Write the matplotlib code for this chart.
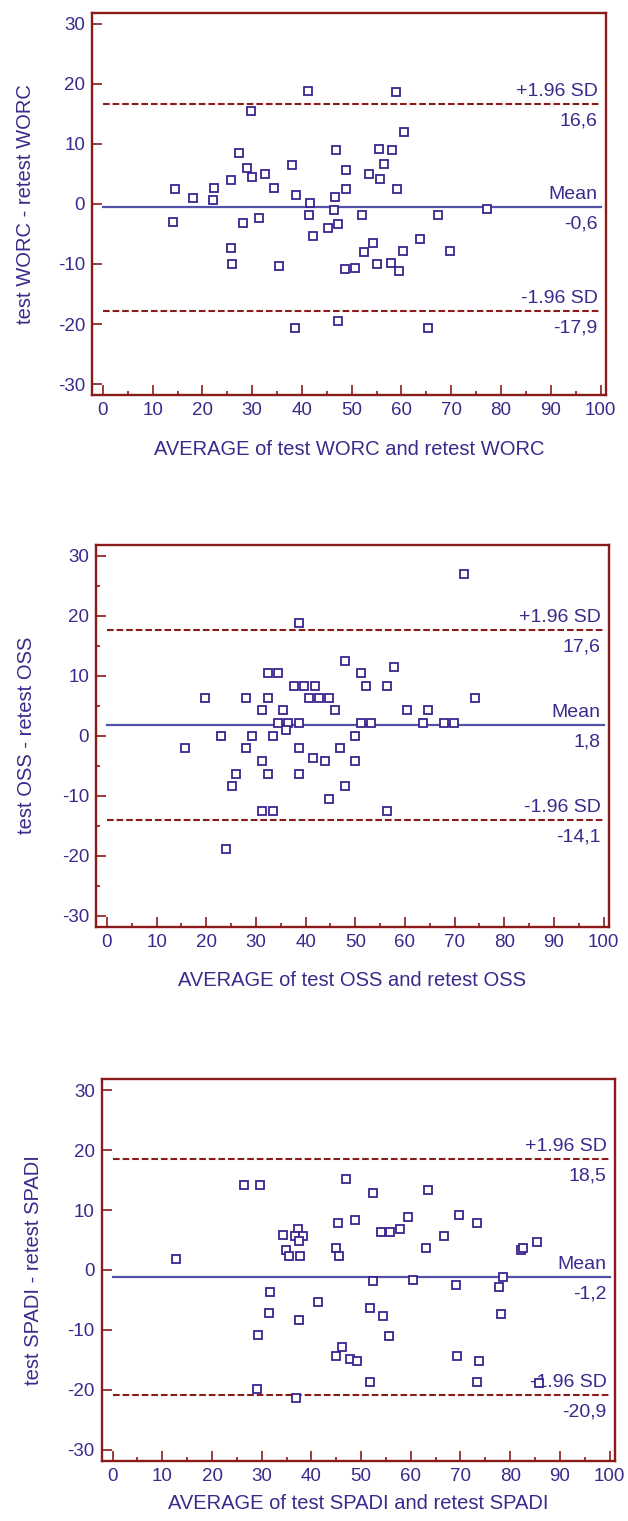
import matplotlib
matplotlib.use('Agg')
import matplotlib.pyplot as plt
from matplotlib.ticker import MultipleLocator

plt.rcParams['font.family'] = ['Liberation Sans', 'DejaVu Sans']
plt.rcParams['axes.unicode_minus'] = False

# ---------------- data ----------------
worc_avg = [41.3, 29.7, 27.3, 46.8, 28.9, 38.0, 48.9, 29.9, 32.5, 25.8, 34.3, 14.4, 22.4, 48.9,
            38.7, 46.7, 18.1, 22.1, 41.6, 46.5, 52.0, 14.0, 28.2, 31.4, 41.5, 47.3, 45.3, 42.2,
            25.8, 26.0, 35.3, 48.6, 50.7, 38.6, 47.3, 58.9, 60.5, 55.5, 58.1, 56.4, 53.4, 55.6,
            59.1, 77.1, 67.4, 63.7, 54.2, 52.4, 60.3, 69.7, 55.0, 57.9, 59.4, 65.4]
worc_diff = [18.8, 15.4, 8.5, 8.9, 6.0, 6.5, 5.7, 4.5, 4.9, 4.0, 2.7, 2.5, 2.7, 2.5,
             1.5, 1.1, 0.9, 0.6, 0.1, -1.1, -1.8, -3.1, -3.2, -2.4, -1.9, -3.4, -4.0, -5.4,
             -7.4, -10.0, -10.4, -10.9, -10.7, -20.7, -19.5, 18.6, 11.9, 9.2, 9.0, 6.7, 4.9, 4.2,
             2.4, -0.8, -1.9, -5.9, -6.5, -8.0, -7.9, -7.8, -10.0, -9.9, -11.2, -20.7]
worc_lines = {'mean': -0.6, 'upper': 16.6, 'lower': -17.9}
worc_labels = {'mean': '-0,6', 'upper': '16,6', 'lower': '-17,9'}

oss_avg = [38.6, 48.0, 32.4, 34.4, 51.1, 37.6, 39.7, 41.8, 19.8, 28.1, 32.4, 40.7, 42.7, 44.7,
           31.3, 35.5, 46.0, 34.4, 36.5, 38.6, 51.1, 36.0, 23.0, 29.3, 33.4, 49.9, 15.7, 28.1,
           38.6, 46.9, 41.5, 43.9, 31.3, 49.9, 26.0, 32.4, 38.6, 25.1, 48.0, 44.8, 31.3, 33.4,
           24.0, 72.0, 57.9, 52.1, 56.3, 74.1, 60.4, 64.6, 53.2, 63.7, 67.8, 69.9, 56.3]
oss_diff = [18.7, 12.5, 10.4, 10.4, 10.4, 8.3, 8.3, 8.3, 6.3, 6.3, 6.3, 6.3, 6.3, 6.3,
            4.2, 4.2, 4.2, 2.1, 2.1, 2.1, 2.1, 0.9, 0.0, 0.0, 0.0, 0.0, -2.1, -2.1,
            -2.1, -2.1, -3.7, -4.2, -4.2, -4.2, -6.3, -6.3, -6.3, -8.4, -8.4, -10.5, -12.5, -12.5,
            -18.8, 27.0, 11.4, 8.3, 8.3, 6.3, 4.2, 4.2, 2.1, 2.1, 2.1, 2.1, -12.5]
oss_lines = {'mean': 1.8, 'upper': 17.6, 'lower': -14.1}
oss_labels = {'mean': '1,8', 'upper': '17,6', 'lower': '-14,1'}

spadi_avg = [26.5, 29.7, 47.0, 45.3, 48.8, 34.3, 37.3, 36.8, 38.3, 37.6, 34.8, 35.5, 37.7, 45.0,
             45.6, 12.7, 31.6, 41.4, 31.4, 37.6, 29.3, 46.1, 44.9, 47.7, 49.2, 29.1, 36.9,
             52.4, 63.5, 59.5, 69.7, 73.4, 54.1, 55.9, 57.9, 66.6, 63.0, 82.2, 82.5, 85.4,
             52.3, 60.4, 69.1, 77.8, 78.5, 51.7, 54.4, 78.1, 55.7, 69.3, 73.8, 51.7, 73.4, 85.9]
spadi_diff = [14.2, 14.2, 15.2, 7.8, 8.4, 5.8, 6.8, 5.7, 5.7, 4.8, 3.4, 2.4, 2.4, 3.7,
              2.3, 1.9, -3.7, -5.3, -7.2, -8.3, -10.9, -12.9, -14.4, -14.9, -15.1, -19.9, -21.3,
              12.9, 13.4, 8.9, 9.1, 7.8, 6.4, 6.4, 6.9, 5.7, 3.7, 3.3, 3.7, 4.6,
              -1.9, -1.7, -2.5, -2.9, -1.1, -6.3, -7.7, -7.3, -11.0, -14.4, -15.2, -18.7, -18.6, -18.9]
spadi_lines = {'mean': -1.2, 'upper': 18.5, 'lower': -20.9}
spadi_labels = {'mean': '-1,2', 'upper': '18,5', 'lower': '-20,9'}

x_ticks = [0, 10, 20, 30, 40, 50, 60, 70, 80, 90, 100]
y_ticks = [-30, -20, -10, 0, 10, 20, 30]

panels = [
    dict(avg=worc_avg, diff=worc_diff, lines=worc_lines, labels=worc_labels,
         xlabel='AVERAGE of test WORC and retest WORC', ylabel='test WORC - retest WORC',
         rect_px=(92, 12.7, 606, 395), yminor=False, ylab_x=-0.111, xlab_y=-0.118),
    dict(avg=oss_avg, diff=oss_diff, lines=oss_lines, labels=oss_labels,
         xlabel='AVERAGE of test OSS and retest OSS', ylabel='test OSS - retest OSS',
         rect_px=(96, 544.7, 609, 926.7), yminor=True, ylab_x=-0.117, xlab_y=-0.116),
    dict(avg=spadi_avg, diff=spadi_diff, lines=spadi_lines, labels=spadi_labels,
         xlabel='AVERAGE of test SPADI and retest SPADI', ylabel='test SPADI - retest SPADI',
         rect_px=(101.7, 1079.3, 615, 1460.7), yminor=False, ylab_x=-0.115, xlab_y=-0.086),
]

W, H = 628, 1521
fig = plt.figure(figsize=(W / 100, H / 100), dpi=100)

frame_col = '#8b1a1a'
text_col = '#3a2a8c'
marker_col = '#3b2390'
mean_col = '#5252a8'
dash_col = '#8b1c1c'

for p in panels:
    l, t, r, b = p['rect_px']
    ax = fig.add_axes([l / W, 1 - b / H, (r - l) / W, (b - t) / H])
    ax.plot(p['avg'], p['diff'], linestyle='none', marker='s', markersize=5.2,
            markerfacecolor='white', markeredgecolor=marker_col, markeredgewidth=1.3, zorder=3)
    ax.plot([0, 100], [p['lines']['mean']] * 2, color=mean_col, lw=1.6, zorder=2)
    for key in ('upper', 'lower'):
        ax.plot([0, 100], [p['lines'][key]] * 2, color=dash_col, lw=1.5,
                dashes=(3.2, 1.4), zorder=2)
    tops = {'upper': '+1.96 SD', 'mean': 'Mean', 'lower': '-1.96 SD'}
    for key in ('upper', 'mean', 'lower'):
        yv = p['lines'][key]
        ax.annotate(tops[key], xy=(100, yv), xytext=(-2, 3), textcoords='offset points',
                    ha='right', va='bottom', fontsize=14, color=text_col, zorder=1)
        ax.annotate(p['labels'][key], xy=(100, yv), xytext=(-2, -6), textcoords='offset points',
                    ha='right', va='top', fontsize=14, color=text_col, zorder=1)
    ax.set_xlim(-2.2, 101.1)
    ax.set_ylim(-31.8, 31.8)
    ax.set_xticks(x_ticks)
    ax.set_yticks(y_ticks)
    ax.xaxis.set_minor_locator(MultipleLocator(5))
    if p['yminor']:
        ax.yaxis.set_minor_locator(MultipleLocator(5))
    ax.tick_params(which='major', direction='in', length=7, width=1.2, color=frame_col,
                   labelcolor=text_col, labelsize=13.5, pad=5)
    ax.tick_params(which='minor', direction='in', length=3, width=1.2, color=frame_col)
    for s in ax.spines.values():
        s.set_color(frame_col)
        s.set_linewidth(1.7)
    ax.set_xlabel(p['xlabel'], fontsize=14.5, color=text_col)
    ax.set_ylabel(p['ylabel'], fontsize=14.5, color=text_col)
    ax.yaxis.set_label_coords(p['ylab_x'], 0.5)
    ax.xaxis.set_label_coords(0.5, p['xlab_y'])

fig.savefig('out.png', dpi=100)
